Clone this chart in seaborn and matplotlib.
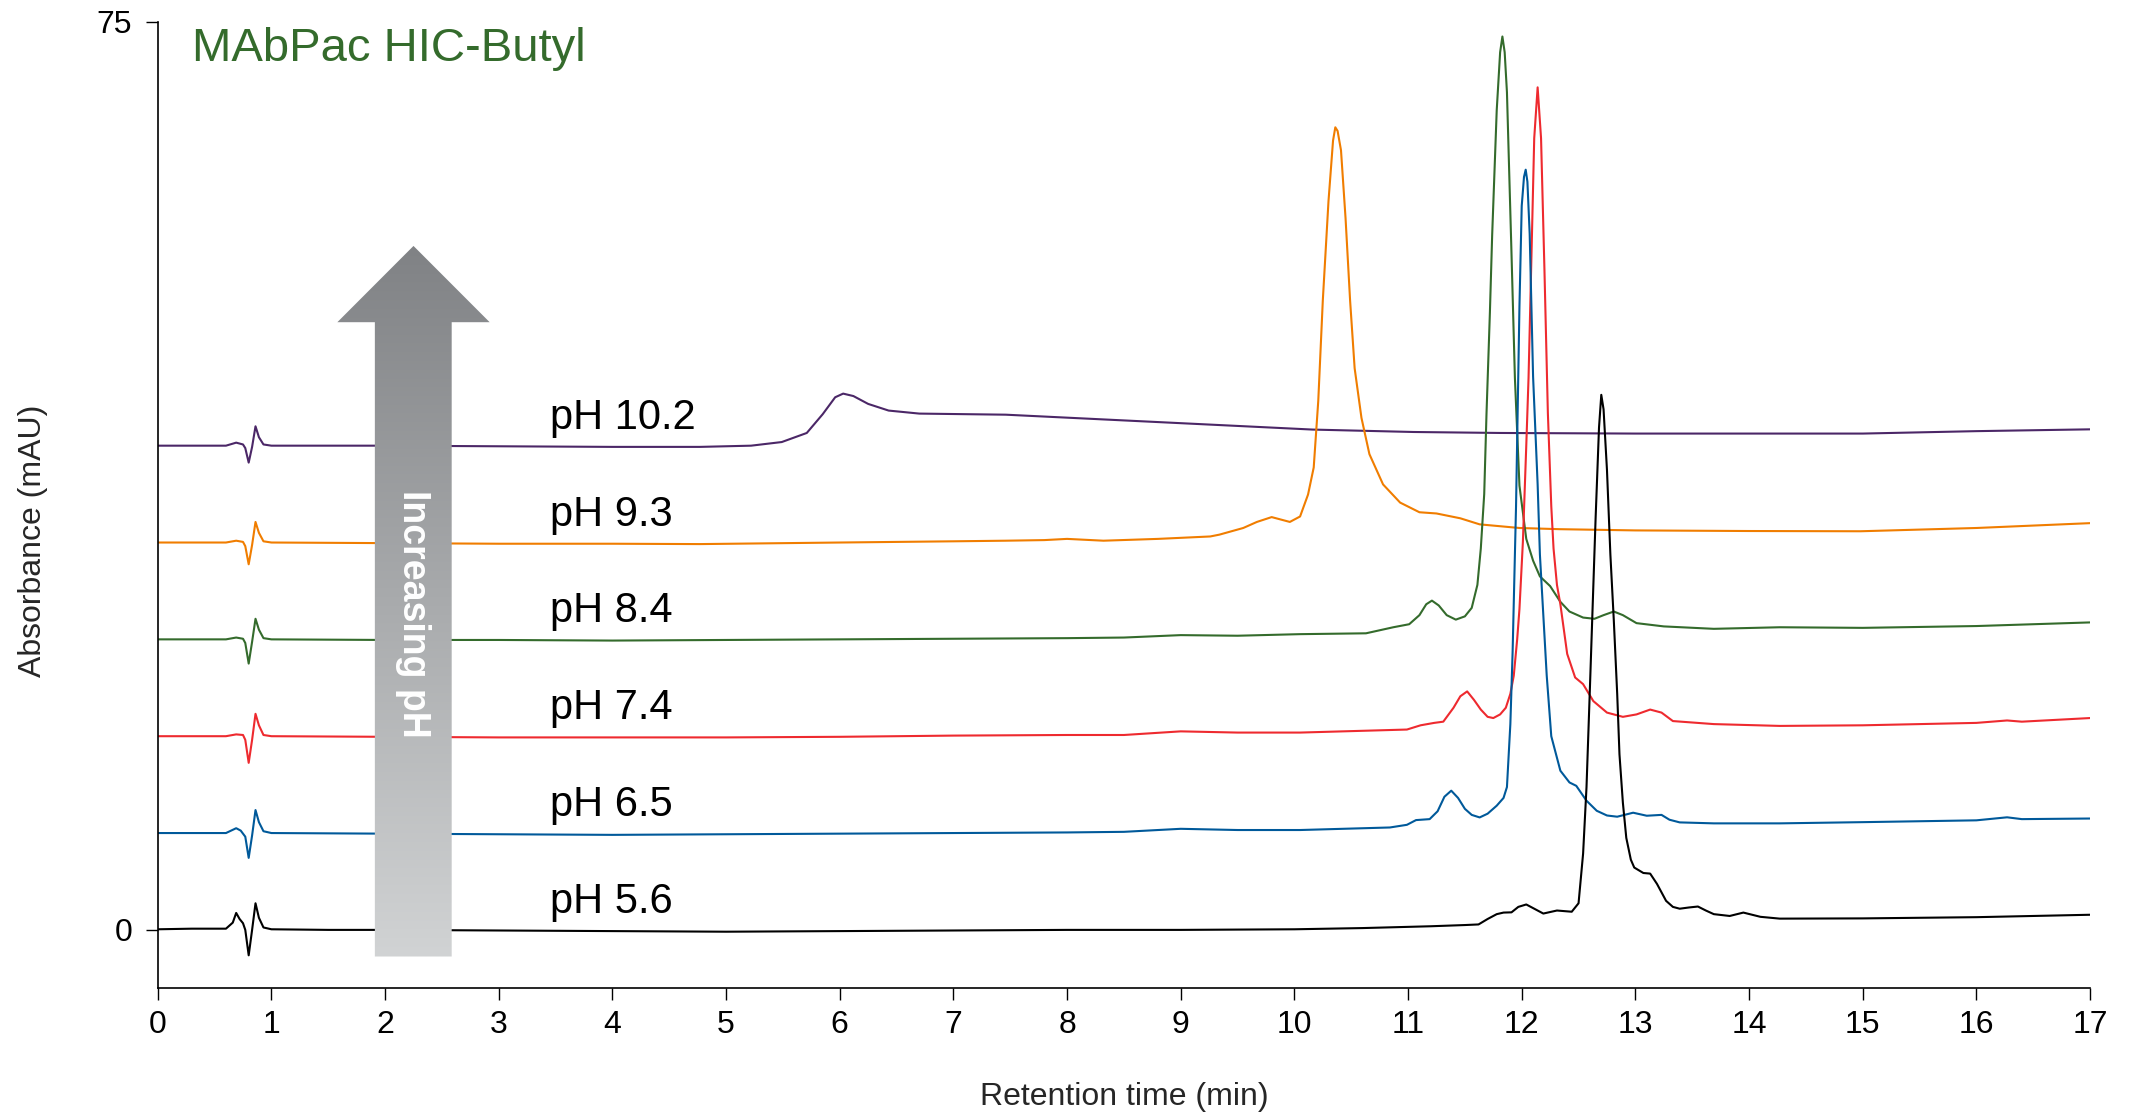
import numpy as np
import pandas as pd
import matplotlib
matplotlib.use("Agg")
import matplotlib.pyplot as plt
from matplotlib.patches import Polygon
import seaborn as sns

# ── data (mAU above each trace's own baseline) ────
LABELS = ["pH 5.6", "pH 6.5", "pH 7.4", "pH 8.4", "pH 9.3", "pH 10.2"]
OFFSETS = [0, 8, 16, 24, 32, 40]
COLORS = ["#000000", "#00599A", "#EE2A2F", "#346B2C", "#F07D00", "#4B2767"]

T_56 = [0, 0.3, 0.6, 0.66, 0.69, 0.72, 0.75, 0.77, 0.8, 0.83, 0.86, 0.89, 0.93, 1.0,
        1.5, 2, 3, 4, 5, 6, 7, 8, 9, 10, 10.6, 11.2, 11.5, 11.62, 11.7, 11.78,
        11.84, 11.91, 11.97, 12.04, 12.12, 12.19, 12.31, 12.44, 12.5, 12.54, 12.57,
        12.6, 12.62, 12.65, 12.68, 12.7, 12.72, 12.75, 12.78, 12.81, 12.84, 12.86,
        12.89, 12.92, 12.96, 12.99, 13.07, 13.13, 13.19, 13.27, 13.33, 13.39, 13.47,
        13.55, 13.62, 13.69, 13.83, 13.95, 14.1, 14.27, 15, 16, 17]
A_56 = [0.05, 0.1, 0.1, 0.6, 1.4, 0.9, 0.55, 0.0, -2.1, 0.0, 2.2, 1.0, 0.2, 0.05,
        0.0, 0.0, -0.05, -0.1, -0.15, -0.1, -0.05, 0.0, 0.0, 0.05, 0.15, 0.3, 0.4, 0.45,
        0.9, 1.3, 1.43, 1.45, 1.9, 2.1, 1.7, 1.35, 1.6, 1.5, 2.2, 6.3, 11.8,
        20, 25.6, 34, 41.5, 44.2, 43, 38, 31, 25.6, 19.5, 14.5,
        10.5, 7.6, 5.8, 5.15, 4.7, 4.65, 3.8, 2.4, 1.9, 1.75, 1.85,
        1.93, 1.6, 1.3, 1.15, 1.43, 1.08, 0.93, 0.95, 1.05, 1.25]

T_65 = [0, 0.6, 0.69, 0.73, 0.77, 0.8, 0.83, 0.86, 0.89, 0.93, 1.0, 2, 3, 4, 5, 6,
        7, 8, 8.5, 9, 9.5, 10.05, 10.84, 10.99, 11.07, 11.19, 11.26, 11.32, 11.38,
        11.44, 11.5, 11.56, 11.63, 11.7, 11.78, 11.84, 11.87, 11.9, 11.92, 11.95,
        11.98, 12.0, 12.02, 12.035, 12.05, 12.07, 12.1, 12.14, 12.16, 12.19, 12.22,
        12.26, 12.34, 12.42, 12.48, 12.57, 12.66, 12.75, 12.84, 12.98, 13.1, 13.23,
        13.3, 13.39, 13.69, 14.27, 15, 16, 16.27, 16.4, 17]
A_65 = [0, 0.0, 0.4, 0.2, -0.3, -2.05, -0.2, 1.9, 0.9, 0.15, 0.0, -0.05, -0.1, -0.15, -0.1, -0.05,
        0.0, 0.05, 0.1, 0.35, 0.25, 0.25, 0.46, 0.68, 1.07, 1.15, 1.8, 3.0, 3.5,
        2.9, 2.0, 1.5, 1.29, 1.6, 2.26, 2.9, 3.8, 9, 15, 27,
        43.5, 51.8, 54.2, 54.8, 53.8, 49.5, 37.7, 28.8, 23, 18, 13,
        8, 5.15, 4.18, 3.9, 2.67, 1.84, 1.45, 1.35, 1.68, 1.43, 1.5,
        1.1, 0.88, 0.8, 0.8, 0.9, 1.05, 1.3, 1.15, 1.2]

T_74 = [0, 0.6, 0.69, 0.75, 0.77, 0.8, 0.83, 0.86, 0.89, 0.93, 1.0, 2, 3, 4, 5, 6,
        7, 8, 8.5, 9, 9.5, 10.05, 10.99, 11.11, 11.23, 11.31, 11.4, 11.46, 11.52,
        11.58, 11.64, 11.7, 11.75, 11.81, 11.86, 11.9, 11.93, 11.96, 11.98, 12.01,
        12.04, 12.06, 12.09, 12.11, 12.14, 12.17, 12.2, 12.23, 12.26, 12.28, 12.31,
        12.34, 12.4, 12.47, 12.54, 12.63, 12.75, 12.89, 13.01, 13.13, 13.23, 13.33,
        13.69, 14.27, 15, 16, 16.27, 16.4, 17]
A_74 = [0, 0.0, 0.15, 0.1, -0.3, -2.2, -0.3, 1.85, 0.9, 0.1, 0.0, -0.05, -0.1, -0.1, -0.1, -0.05,
        0.05, 0.1, 0.1, 0.4, 0.3, 0.3, 0.55, 0.9, 1.1, 1.2, 2.35, 3.3, 3.7,
        3.0, 2.2, 1.6, 1.5, 1.8, 2.35, 3.5, 5.0, 8, 10.5, 16,
        24, 29.6, 41.4, 49.4, 53.6, 49.4, 38.5, 26.7, 19, 15.5, 12.5,
        10.9, 6.8, 4.85, 4.3, 2.9, 1.95, 1.6, 1.8, 2.2, 1.95, 1.25,
        1.0, 0.85, 0.9, 1.1, 1.3, 1.2, 1.5]

T_84 = [0, 0.6, 0.69, 0.75, 0.77, 0.8, 0.83, 0.86, 0.89, 0.93, 1, 2, 3, 4, 5, 6,
        7, 8, 8.5, 9, 9.5, 10.05, 10.63, 10.87, 11.01, 11.1, 11.16, 11.21, 11.27,
        11.34, 11.42, 11.5, 11.56, 11.61, 11.64, 11.67, 11.69, 11.72, 11.74, 11.78,
        11.81, 11.83, 11.85, 11.87, 11.91, 11.94, 11.98, 12.04, 12.1, 12.16, 12.25,
        12.34, 12.42, 12.54, 12.64, 12.72, 12.81, 12.89, 13.01, 13.25, 13.69, 14.27,
        15, 16, 17]
A_84 = [0, 0, 0.15, 0.05, -0.3, -2.0, -0.2, 1.7, 0.8, 0.1, 0, -0.05, -0.05, -0.1, -0.05, 0.0,
        0.05, 0.1, 0.15, 0.35, 0.3, 0.43, 0.5, 1.0, 1.25, 2.0, 2.9, 3.2, 2.8,
        2.0, 1.63, 1.9, 2.6, 4.5, 7.5, 12, 18.6, 27, 33.4, 43.7,
        48.5, 49.8, 48.5, 45.2, 31.9, 21.6, 12.7, 8.3, 6.5, 5.2, 4.4,
        3.1, 2.3, 1.8, 1.7, 2.0, 2.3, 2.0, 1.34, 1.07, 0.87, 1.0,
        0.95, 1.1, 1.4]

T_93 = [0, 0.6, 0.69, 0.75, 0.77, 0.8, 0.83, 0.86, 0.89, 0.93, 1, 2, 3, 4, 4.77, 6,
        7, 7.46, 7.8, 8.0, 8.32, 8.8, 9.26, 9.34, 9.55, 9.67, 9.8, 9.88, 9.96, 10.05,
        10.12, 10.17, 10.21, 10.25, 10.3, 10.34, 10.36, 10.38, 10.41, 10.45, 10.49,
        10.53, 10.59, 10.66, 10.78, 10.93, 11.1, 11.25, 11.46, 11.63, 11.98, 12.34,
        13, 14, 14.98, 16, 17]
A_93 = [0, 0, 0.15, 0.05, -0.3, -1.8, -0.2, 1.7, 0.8, 0.1, 0, -0.05, -0.1, -0.1, -0.13, 0.0,
        0.1, 0.15, 0.2, 0.3, 0.15, 0.3, 0.5, 0.65, 1.2, 1.7, 2.1, 1.9, 1.7, 2.15,
        3.96, 6.2, 11.7, 20.0, 28.2, 33.2, 34.3, 34.0, 32.4, 26.8, 20.0,
        14.4, 10.3, 7.3, 4.8, 3.3, 2.5, 2.4, 2.0, 1.5, 1.2, 1.1,
        1.0, 0.95, 0.93, 1.2, 1.6]

T_102 = [0, 0.6, 0.69, 0.75, 0.77, 0.8, 0.83, 0.86, 0.89, 0.93, 1, 2, 3, 4, 4.77,
         5.22, 5.49, 5.71, 5.85, 5.96, 6.03, 6.12, 6.25, 6.43, 6.7, 7.46, 8.36, 9.26,
         10.16, 11.05, 11.81, 13, 14, 15, 16, 17]
A_102 = [0, 0, 0.25, 0.1, -0.2, -1.4, -0.1, 1.6, 0.7, 0.1, 0, 0, -0.05, -0.1, -0.1,
         0.0, 0.3, 1.05, 2.6, 4.0, 4.3, 4.1, 3.45, 2.9, 2.65, 2.56, 2.15, 1.74,
         1.33, 1.13, 1.05, 1.0, 1.0, 1.0, 1.2, 1.35]

TIMES = [T_56, T_65, T_74, T_84, T_93, T_102]
SIGNALS = [A_56, A_65, A_74, A_84, A_93, A_102]

X_TICKS = list(range(0, 18))
Y_TICKS = [0, 75]

# ── style ────────────────────────────────────────────────────────────────────
sns.set_theme(style="ticks")
plt.rcParams.update({
    "font.family": ["Liberation Sans", "DejaVu Sans"],
    "axes.linewidth": 1.2,
    "xtick.major.width": 1.0,
    "ytick.major.width": 1.0,
    "xtick.major.size": 8.5,
    "ytick.major.size": 8.5,
    "xtick.color": "black",
    "ytick.color": "black",
    "axes.edgecolor": "black",
})

frames = []
for label, off, t, a in zip(LABELS, OFFSETS, TIMES, SIGNALS):
    frames.append(pd.DataFrame({"time": t, "absorbance": np.asarray(a) + off,
                                "sample": label}))
df = pd.concat(frames, ignore_index=True)

palette = dict(zip(LABELS, COLORS))
draw_order = LABELS[::-1]  # pH 10.2 at the bottom of the stack, pH 5.6 on top

fig = plt.figure(figsize=(21.29, 11.16), dpi=100)
ax = fig.add_axes([0.0741, 0.1147, 0.9076, 0.8656])

sns.lineplot(data=df, x="time", y="absorbance", hue="sample",
             hue_order=draw_order, palette=palette, estimator=None,
             sort=False, linewidth=1.5, legend=False, ax=ax)

# trace labels
for label, off in zip(LABELS, OFFSETS):
    ax.text(3.45, off + 1.4, label, fontsize=30, color="black",
            ha="left", va="baseline", zorder=4)

ax.text(0.0177, 0.960, "MAbPac HIC-Butyl", transform=ax.transAxes,
        fontsize=34, color="#346B2C", ha="left", va="baseline")

# gradient arrow "Increasing pH"
shaft_l, shaft_r, head_l, head_r = 1.91, 2.586, 1.58, 2.92
y_bot, y_head, y_tip = -2.2, 50.2, 56.5
verts = [(shaft_l, y_bot), (shaft_r, y_bot), (shaft_r, y_head), (head_r, y_head),
         ((head_l + head_r) / 2, y_tip), (head_l, y_head), (shaft_l, y_head)]
arrow = Polygon(verts, closed=True, facecolor="none", edgecolor="none",
                transform=ax.transData)
ax.add_patch(arrow)
grad = np.linspace(0, 1, 256).reshape(-1, 1)
cmap = matplotlib.colors.LinearSegmentedColormap.from_list(
    "arrow", ["#808285", "#D1D3D4"])
im = ax.imshow(grad, cmap=cmap, aspect="auto", origin="upper",
               extent=[head_l, head_r, y_bot, y_tip], zorder=5)
im.set_clip_path(arrow)
ax.text((shaft_l + shaft_r) / 2, 26.1, "Increasing pH", rotation=270,
        fontsize=27, fontweight="bold", color="white",
        ha="center", va="center", zorder=6)

# axes
ax.set_xlim(0, 17)
ax.set_ylim(-4.8, 75)
ax.set_xticks(X_TICKS)
ax.set_yticks(Y_TICKS)
ax.tick_params(axis="x", labelsize=23, pad=7, direction="out")
ax.tick_params(axis="y", labelsize=23, pad=10, direction="out")
ax.set_xlabel("Retention time (min)", fontsize=23)
ax.set_ylabel("Absorbance (mAU)", fontsize=23)
ax.xaxis.set_label_coords(0.5, -0.097)
ax.yaxis.set_label_coords(-0.057, 0.463)
sns.despine(ax=ax)
ax.grid(False)

fig.savefig("out.png", dpi=100)
